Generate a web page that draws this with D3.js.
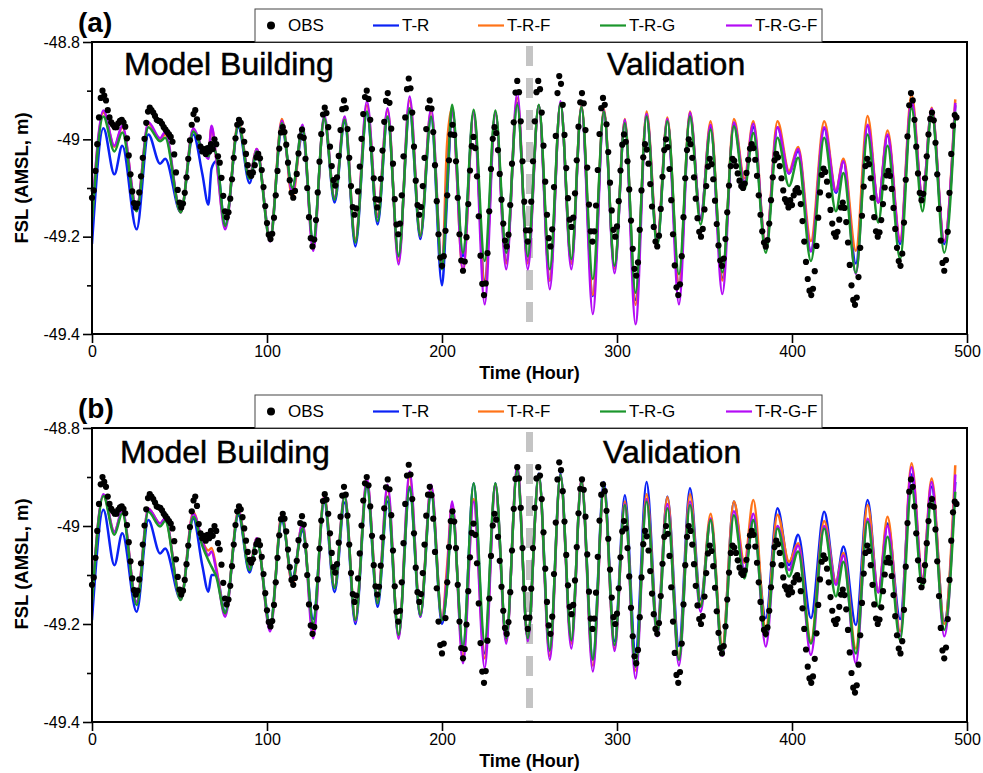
<!DOCTYPE html>
<html>
<head>
<meta charset="utf-8">
<script src="https://cdn.jsdelivr.net/npm/d3@7"></script>
<style>
  html, body { margin: 0; padding: 0; background: #ffffff; }
  svg { display: block; font-family: "Liberation Sans", Arial, Helvetica, sans-serif; }
</style>
</head>
<body>
<svg id="chart" width="983" height="773"></svg>
<script>
// ---- axis ticks ----
const timeTicks = [0, 100, 200, 300, 400, 500];
const levelTicks = [-49.4, -49.2, -49, -48.8];
const levelMinorTicks = [-49.3, -49.1, -48.9];
const splitHour = 250;

// ---- observed free surface level, hourly from hour 0 ----
const obsLevel = [
  -49.12, -49.105, -49.065, -49.01, -48.955, -48.915, -48.90, -48.91, -48.92, -48.94,
  -48.955, -48.965, -48.97, -48.975, -48.975, -48.967, -48.962, -48.96, -48.965, -48.974,
  -48.998, -49.033, -49.072, -49.107, -49.131, -49.14, -49.132, -49.109, -49.076, -49.038,
  -48.999, -48.966, -48.943, -48.935, -48.94, -48.945, -48.952, -48.96, -48.962, -48.963,
  -48.968, -48.975, -48.98, -48.985, -48.99, -48.995, -49.005, -49.031, -49.068, -49.104,
  -49.13, -49.14, -49.132, -49.11, -49.078, -49.04, -49.002, -48.97, -48.948, -48.94,
  -48.959, -48.996, -49.015, -49.025, -49.02, -49.03, -49.018, -49.025, -49.01, -49.02,
  -49.0, -49.01, -49.035, -49.048, -49.079, -49.116, -49.148, -49.16, -49.15, -49.122,
  -49.082, -49.038, -48.998, -48.97, -48.96, -48.966, -48.982, -49.005, -49.03, -49.053,
  -49.069, -49.075, -49.068, -49.053, -49.037, -49.03, -49.039, -49.063, -49.098, -49.137,
  -49.172, -49.196, -49.205, -49.194, -49.161, -49.115, -49.065, -49.019, -48.986, -48.975,
  -48.985, -49.011, -49.048, -49.084, -49.11, -49.12, -49.106, -49.071, -49.029, -48.994,
  -48.98, -48.997, -49.04, -49.1, -49.16, -49.203, -49.22, -49.206, -49.166, -49.109,
  -49.046, -48.989, -48.949, -48.935, -48.946, -48.975, -49.015, -49.055, -49.084, -49.095,
  -49.078, -49.034, -48.981, -48.938, -48.92, -48.936, -48.979, -49.038, -49.096, -49.139,
  -49.155, -49.142, -49.107, -49.056, -48.999, -48.948, -48.913, -48.90, -48.917, -48.96,
  -49.02, -49.08, -49.123, -49.14, -49.124, -49.081, -49.023, -48.964, -48.921, -48.905,
  -48.925, -48.978, -49.05, -49.123, -49.175, -49.195, -49.173, -49.115, -49.035, -48.955,
  -48.897, -48.875, -48.895, -48.945, -49.015, -49.085, -49.135, -49.155, -49.139, -49.096,
  -49.038, -48.979, -48.936, -48.92, -48.937, -48.985, -49.053, -49.127, -49.195, -49.243,
  -49.26, -49.24, -49.188, -49.115, -49.043, -48.99, -48.97, -48.991, -49.045, -49.12,
  -49.195, -49.249, -49.27, -49.251, -49.201, -49.133, -49.064, -49.014, -48.995, -49.018,
  -49.076, -49.158, -49.239, -49.297, -49.32, -49.296, -49.234, -49.148, -49.061, -48.999,
  -48.975, -48.987, -49.022, -49.071, -49.124, -49.173, -49.208, -49.22, -49.196, -49.135,
  -49.05, -48.965, -48.904, -48.88, -48.903, -48.963, -49.045, -49.128, -49.187, -49.21,
  -49.187, -49.128, -49.045, -48.963, -48.903, -48.88, -48.897, -48.945, -49.013, -49.087,
  -49.155, -49.203, -49.22, -49.185, -49.098, -48.993, -48.905, -48.87, -48.886, -48.929,
  -48.991, -49.059, -49.121, -49.165, -49.18, -49.161, -49.111, -49.043, -48.974, -48.924,
  -48.905, -48.926, -48.981, -49.058, -49.134, -49.189, -49.21, -49.189, -49.136, -49.063,
  -48.989, -48.936, -48.915, -48.929, -48.969, -49.026, -49.089, -49.146, -49.186, -49.2,
  -49.179, -49.127, -49.064, -49.011, -48.99, -49.005, -49.045, -49.103, -49.167, -49.225,
  -49.266, -49.28, -49.253, -49.186, -49.105, -49.037, -49.01, -49.021, -49.05, -49.092,
  -49.138, -49.18, -49.21, -49.22, -49.198, -49.143, -49.077, -49.022, -49.0, -49.016,
  -49.061, -49.125, -49.195, -49.259, -49.304, -49.32, -49.298, -49.24, -49.16, -49.08,
  -49.022, -49.0, -49.01, -49.038, -49.078, -49.122, -49.162, -49.19, -49.2, -49.184,
  -49.144, -49.096, -49.056, -49.04, -49.051, -49.082, -49.126, -49.174, -49.218, -49.249,
  -49.26, -49.245, -49.205, -49.15, -49.095, -49.055, -49.04, -49.044, -49.055, -49.07,
  -49.085, -49.096, -49.1, -49.091, -49.069, -49.042, -49.019, -49.01, -49.018, -49.042,
  -49.075, -49.115, -49.155, -49.189, -49.212, -49.22, -49.207, -49.173, -49.125, -49.078,
  -49.043, -49.03, -49.037, -49.055, -49.08, -49.105, -49.123, -49.13, -49.14, -49.125,
  -49.135, -49.115, -49.105, -49.1, -49.109, -49.133, -49.168, -49.21, -49.252, -49.287,
  -49.311, -49.32, -49.307, -49.271, -49.219, -49.161, -49.109, -49.073, -49.06, -49.067,
  -49.087, -49.115, -49.145, -49.173, -49.193, -49.2, -49.19, -49.165, -49.14, -49.13,
  -49.141, -49.17, -49.212, -49.258, -49.3, -49.33, -49.34, -49.325, -49.283, -49.223,
  -49.157, -49.097, -49.055, -49.04, -49.051, -49.08, -49.12, -49.16, -49.189, -49.2,
  -49.191, -49.166, -49.133, -49.099, -49.074, -49.065, -49.075, -49.102, -49.141, -49.184,
  -49.223, -49.25, -49.26, -49.235, -49.171, -49.083, -48.994, -48.93, -48.905, -48.92,
  -48.96, -49.015, -49.07, -49.11, -49.125, -49.112, -49.08, -49.035, -48.99, -48.958,
  -48.945, -48.961, -49.007, -49.072, -49.143, -49.208, -49.254, -49.27, -49.248, -49.19,
  -49.11, -49.03, -48.972, -48.95, -48.955
];

// ---- simulated level: turning points (hour) shared by all runs ----
const modelHour = [
  0, 6.5, 12.8, 17.3, 25.5, 32.2, 38.9, 41.8, 50.7, 57.9,
  63, 66.5, 68.3, 71, 76.1, 83.7, 90, 94.2, 101.8, 108.5,
  114.5, 120.3, 126.4, 132.7, 138.6, 144.4, 150.5, 157.1, 163.2, 168.9,
  175.2, 181.5, 187.6, 193.8, 200, 202.9, 205.8, 212, 218.1, 224.4,
  230.5, 236.7, 243, 249, 255.3, 261.6, 267.7, 273.9, 279.7, 286.2,
  292.5, 298.6, 304.5, 310.6, 316.9, 323, 328.8, 335.4, 341.7, 347.8,
  353.5, 360.2, 366.8, 372.8, 377.9, 385, 391.7, 398.3, 403.5, 410.8,
  418.4, 425.1, 429.4, 436.5, 443.2, 449.3, 454.6, 461.8, 468.3, 474.6,
  479.8, 487, 493.3
];

// ---- panel (a) runs ----
const trA = [
  -49.215, -48.977, -49.072, -49.013, -49.185, -48.99, -49.05, -49.04, -49.15, -48.99,
  -49.07, -49.134, -49.06, -49.045, -49.175, -48.975, -49.09, -49.025, -49.2, -48.975,
  -49.1, -48.99, -49.21, -48.96, -49.13, -48.965, -49.22, -48.945, -49.175, -48.955,
  -49.24, -48.94, -49.205, -48.955, -49.30, -49.12, -48.935, -49.24, -48.945, -49.29,
  -48.945, -49.25, -48.925, -49.25, -48.93, -49.29, -48.926, -49.255, -48.935, -49.322,
  -48.943, -49.265, -48.965, -49.33, -48.952, -49.215, -48.96, -49.30, -48.95, -49.16,
  -48.975, -49.285, -48.968, -49.09, -48.975, -49.225, -48.975, -49.07, -49.024, -49.23,
  -48.977, -49.11, -49.045, -49.255, -48.972, -49.13, -48.992, -49.215, -48.925, -49.125,
  -48.94, -49.215, -48.93
];
const trfA = [
  -49.16, -48.945, -49.015, -48.975, -49.14, -48.968, -49.0, -48.99, -49.15, -48.98,
  -49.02, -49.035, -48.975, -49.04, -49.18, -48.965, -49.075, -49.02, -49.205, -48.958,
  -49.12, -48.975, -49.22, -48.955, -49.12, -48.956, -49.205, -48.93, -49.155, -48.94,
  -49.25, -48.92, -49.195, -48.94, -49.265, -49.01, -48.935, -49.273, -48.945, -49.298,
  -48.945, -49.255, -48.915, -49.255, -48.93, -49.29, -48.925, -49.255, -48.93, -49.32,
  -48.937, -49.265, -48.958, -49.34, -48.943, -49.205, -48.955, -49.30, -48.943, -49.165,
  -48.963, -49.29, -48.958, -49.08, -48.963, -49.22, -48.963, -49.065, -49.016, -49.209,
  -48.963, -49.105, -49.04, -49.229, -48.952, -49.13, -48.982, -49.205, -48.908, -49.12,
  -48.935, -49.208, -48.918
];
const trgA = [
  -49.17, -48.953, -49.025, -48.986, -49.148, -48.975, -49.004, -48.997, -49.15, -48.984,
  -49.02, -49.035, -49.015, -49.03, -49.178, -48.97, -49.081, -49.025, -49.209, -48.967,
  -49.10, -48.975, -49.212, -48.956, -49.124, -48.96, -49.212, -48.943, -49.168, -48.953,
  -49.24, -48.936, -49.199, -48.953, -49.267, -49.1, -48.929, -49.233, -48.939, -49.25,
  -48.941, -49.233, -48.929, -49.24, -48.929, -49.267, -48.926, -49.246, -48.933, -49.287,
  -48.943, -49.26, -48.967, -49.315, -48.953, -49.219, -48.963, -49.277, -48.953, -49.175,
  -48.98, -49.273, -48.973, -49.103, -48.987, -49.233, -48.997, -49.096, -49.038, -49.25,
  -48.997, -49.148, -49.069, -49.274, -48.99, -49.171, -49.013, -49.246, -48.936, -49.148,
  -48.943, -49.233, -48.943
];
const trgfA = [
  -49.155, -48.941, -49.013, -48.972, -49.14, -48.965, -48.998, -48.985, -49.15, -48.977,
  -49.02, -49.04, -48.972, -49.04, -49.185, -48.968, -49.075, -49.02, -49.21, -48.962,
  -49.11, -48.97, -49.229, -48.95, -49.12, -48.953, -49.21, -48.922, -49.16, -48.936,
  -49.257, -48.912, -49.2, -48.936, -49.26, -49.09, -48.94, -49.27, -48.945, -49.339,
  -48.945, -49.267, -48.905, -49.267, -48.93, -49.308, -48.922, -49.267, -48.932, -49.359,
  -48.94, -49.275, -48.96, -49.38, -48.948, -49.21, -48.958, -49.339, -48.945, -49.165,
  -48.97, -49.318, -48.965, -49.09, -48.968, -49.225, -48.975, -49.07, -49.02, -49.23,
  -48.975, -49.107, -49.045, -49.276, -48.97, -49.13, -48.99, -49.21, -48.92, -49.12,
  -48.937, -49.21, -48.925
];

// ---- panel (b) runs ----
const trB = [
  -49.192, -48.967, -49.08, -49.015, -49.175, -48.988, -49.056, -49.046, -49.15, -48.985,
  -49.08, -49.134, -49.10, -49.1, -49.175, -48.978, -49.095, -49.03, -49.2, -48.99,
  -49.105, -49.01, -49.19, -48.952, -49.135, -48.952, -49.2, -48.92, -49.165, -48.95,
  -49.225, -48.925, -49.185, -48.932, -49.2, -49.12, -48.965, -49.25, -48.913, -49.26,
  -48.913, -49.232, -48.885, -49.23, -48.893, -49.255, -48.893, -49.235, -48.905, -49.27,
  -48.91, -49.235, -48.937, -49.258, -48.91, -49.2, -48.94, -49.245, -48.923, -49.15,
  -48.985, -49.25, -48.95, -49.095, -48.988, -49.188, -48.964, -49.08, -49.018, -49.188,
  -48.971, -49.115, -49.042, -49.202, -48.947, -49.135, -48.995, -49.19, -48.895, -49.115,
  -48.92, -49.195, -48.91
];
const trfB = [
  -49.15, -48.937, -49.012, -48.97, -49.155, -48.965, -48.995, -48.985, -49.15, -48.972,
  -49.03, -49.05, -49.045, -49.085, -49.18, -48.968, -49.085, -49.025, -49.21, -48.975,
  -49.12, -48.995, -49.215, -48.938, -49.125, -48.937, -49.19, -48.908, -49.15, -48.925,
  -49.225, -48.9, -49.18, -48.92, -49.19, -49.083, -48.955, -49.265, -48.945, -49.27,
  -48.915, -49.235, -48.88, -49.23, -48.896, -49.265, -48.896, -49.24, -48.905, -49.285,
  -48.922, -49.25, -48.95, -49.295, -48.935, -49.21, -48.941, -49.27, -48.935, -49.16,
  -48.975, -49.245, -48.95, -49.075, -48.947, -49.21, -48.977, -49.073, -49.035, -49.235,
  -48.99, -49.115, -49.055, -49.25, -48.957, -49.135, -48.981, -49.215, -48.872, -49.105,
  -48.903, -49.2, -48.876
];
const trgB = [
  -49.158, -48.939, -49.018, -48.974, -49.161, -48.971, -49.001, -48.99, -49.151, -48.981,
  -49.04, -49.07, -49.083, -49.103, -49.178, -48.974, -49.09, -49.029, -49.206, -48.984,
  -49.11, -49.005, -49.199, -48.944, -49.127, -48.94, -49.192, -48.916, -49.158, -48.94,
  -49.222, -48.92, -49.182, -48.93, -49.192, -49.124, -48.971, -49.246, -48.913, -49.236,
  -48.913, -49.229, -48.886, -49.229, -48.896, -49.253, -48.896, -49.233, -48.91, -49.273,
  -48.92, -49.243, -48.957, -49.287, -48.95, -49.219, -48.964, -49.273, -48.957, -49.165,
  -48.988, -49.26, -48.978, -49.107, -48.988, -49.226, -49.005, -49.103, -49.052, -49.24,
  -49.005, -49.144, -49.073, -49.26, -48.991, -49.165, -49.022, -49.233, -48.92, -49.127,
  -48.94, -49.212, -48.93
];
const trgfB = [
  -49.15, -48.935, -49.012, -48.968, -49.155, -48.965, -48.995, -48.984, -49.15, -48.975,
  -49.03, -49.06, -49.052, -49.09, -49.185, -48.97, -49.085, -49.025, -49.215, -48.978,
  -49.115, -48.995, -49.229, -48.94, -49.125, -48.935, -49.195, -48.903, -49.155, -48.916,
  -49.23, -48.889, -49.185, -48.916, -49.19, -49.1, -48.95, -49.28, -48.95, -49.29,
  -48.92, -49.24, -48.876, -49.235, -48.896, -49.273, -48.896, -49.25, -48.908, -49.297,
  -48.918, -49.255, -48.955, -49.311, -48.945, -49.225, -48.955, -49.285, -48.95, -49.175,
  -48.985, -49.265, -48.97, -49.09, -48.975, -49.246, -49.0, -49.09, -49.04, -49.263,
  -49.0, -49.12, -49.06, -49.28, -48.985, -49.135, -49.0, -49.225, -48.88, -49.11,
  -48.91, -49.225, -48.895
];

// ---- legend / colours ----
const runNames = ["T-R", "T-R-F", "T-R-G", "T-R-G-F"];
const runColors = ["#0b22f5", "#ff7318", "#1b962c", "#b40cf5"];

const svg = d3.select("#chart");
const x = d3.scaleLinear().domain([0, 500]).range([92, 967]);

const panels = [
  { key: "a", tag: "(a)", top: 42, bottom: 334, runs: [trA, trfA, trgA, trgfA],
    leftText: 124, rightText: 607, textBase: 75 },
  { key: "b", tag: "(b)", top: 428, bottom: 722, runs: [trB, trfB, trgB, trgfB],
    leftText: 120, rightText: 603, textBase: 463 }
];

// draw blue first, then orange, purple and green on top
const drawOrder = [0, 1, 3, 2];

panels.forEach(p => {
  const y = d3.scaleLinear().domain([-49.4, -48.8]).range([p.bottom, p.top]);
  const g = svg.append("g");

  const clipId = "plot-clip-" + p.key;
  svg.append("clipPath").attr("id", clipId)
    .append("rect")
    .attr("x", x(0)).attr("y", p.top)
    .attr("width", x(500) - x(0)).attr("height", p.bottom - p.top);

  // calibration / validation divider
  g.append("line")
    .attr("x1", x(splitHour)).attr("x2", x(splitHour))
    .attr("y1", p.top + 4).attr("y2", p.bottom)
    .attr("stroke", "#c4c4c4").attr("stroke-width", 7)
    .attr("stroke-dasharray", "20 12");

  // section captions
  g.append("text").attr("x", p.leftText).attr("y", p.textBase)
    .attr("font-size", 32).attr("fill", "#000").attr("stroke", "#000").attr("stroke-width", 0.5)
    .text("Model Building");
  g.append("text").attr("x", p.rightText).attr("y", p.textBase)
    .attr("font-size", 32).attr("fill", "#000").attr("stroke", "#000").attr("stroke-width", 0.5)
    .text("Validation");

  // simulated series
  const line = d3.line()
    .x((d, i) => x(modelHour[i]))
    .y(d => y(d))
    .curve(d3.curveMonotoneX);

  const lineG = g.append("g").attr("clip-path", `url(#${clipId})`);
  drawOrder.forEach(k => {
    lineG.append("path")
      .attr("d", line(p.runs[k]))
      .attr("fill", "none")
      .attr("stroke", runColors[k])
      .attr("stroke-width", 2.5)
      .attr("stroke-linejoin", "round");
  });

  // observations
  g.append("g").selectAll("circle")
    .data(obsLevel)
    .join("circle")
    .attr("cx", (d, i) => x(i))
    .attr("cy", d => y(d))
    .attr("r", 3.1)
    .attr("fill", "#000");

  // axes
  const fmt = d => String(Math.round(d * 10) / 10);
  const xAxis = g.append("g").attr("transform", `translate(0,${p.bottom})`)
    .call(d3.axisBottom(x).tickValues(timeTicks).tickSize(9).tickSizeOuter(0).tickPadding(3));
  const yAxis = g.append("g").attr("transform", `translate(${x(0)},0)`)
    .call(d3.axisLeft(y).tickValues(levelTicks).tickFormat(fmt).tickSize(9).tickSizeOuter(0).tickPadding(3));
  const yMinor = g.append("g").attr("transform", `translate(${x(0)},0)`)
    .call(d3.axisLeft(y).tickValues(levelMinorTicks).tickFormat("").tickSize(5).tickSizeOuter(0));
  [xAxis, yAxis, yMinor].forEach(a => {
    a.select(".domain").remove();
    a.selectAll("line").attr("stroke", "#000").attr("stroke-width", 1.6);
    a.selectAll("text").attr("font-size", 16).attr("fill", "#000")
      .attr("font-family", '"Liberation Sans", Arial, sans-serif');
  });

  // frame
  g.append("rect")
    .attr("x", x(0)).attr("y", p.top)
    .attr("width", x(500) - x(0)).attr("height", p.bottom - p.top)
    .attr("fill", "none").attr("stroke", "#000").attr("stroke-width", 2);

  // axis titles
  g.append("text")
    .attr("x", (x(0) + x(500)) / 2).attr("y", p.bottom + 45)
    .attr("text-anchor", "middle").attr("font-size", 18).attr("font-weight", "bold")
    .text("Time (Hour)");
  g.append("text")
    .attr("transform", `translate(28,${p.top + 136}) rotate(-90)`)
    .attr("text-anchor", "middle").attr("font-size", 18.5).attr("font-weight", "bold")
    .text("FSL (AMSL, m)");

  // panel tag
  g.append("text").attr("x", 78).attr("y", p.top - 10)
    .attr("font-size", 28).attr("font-weight", "bold").text(p.tag);

  // legend
  const lg = g.append("g");
  const ly = p.top - 16.5;
  lg.append("rect").attr("x", 255).attr("y", p.top - 33)
    .attr("width", 567).attr("height", 33)
    .attr("fill", "#fff").attr("stroke", "#444").attr("stroke-width", 1);
  lg.append("circle").attr("cx", 271).attr("cy", ly).attr("r", 4).attr("fill", "#000");
  lg.append("text").attr("x", 288).attr("y", ly).attr("dy", "0.35em")
    .attr("font-size", 17).text("OBS");
  const legendX = [373, 478, 600, 726];
  runNames.forEach((name, k) => {
    lg.append("line").attr("x1", legendX[k]).attr("x2", legendX[k] + 26)
      .attr("y1", ly).attr("y2", ly)
      .attr("stroke", runColors[k]).attr("stroke-width", 2.2);
    lg.append("text").attr("x", legendX[k] + 29).attr("y", ly).attr("dy", "0.35em")
      .attr("font-size", 17).text(name);
  });
});
</script>
</body>
</html>
